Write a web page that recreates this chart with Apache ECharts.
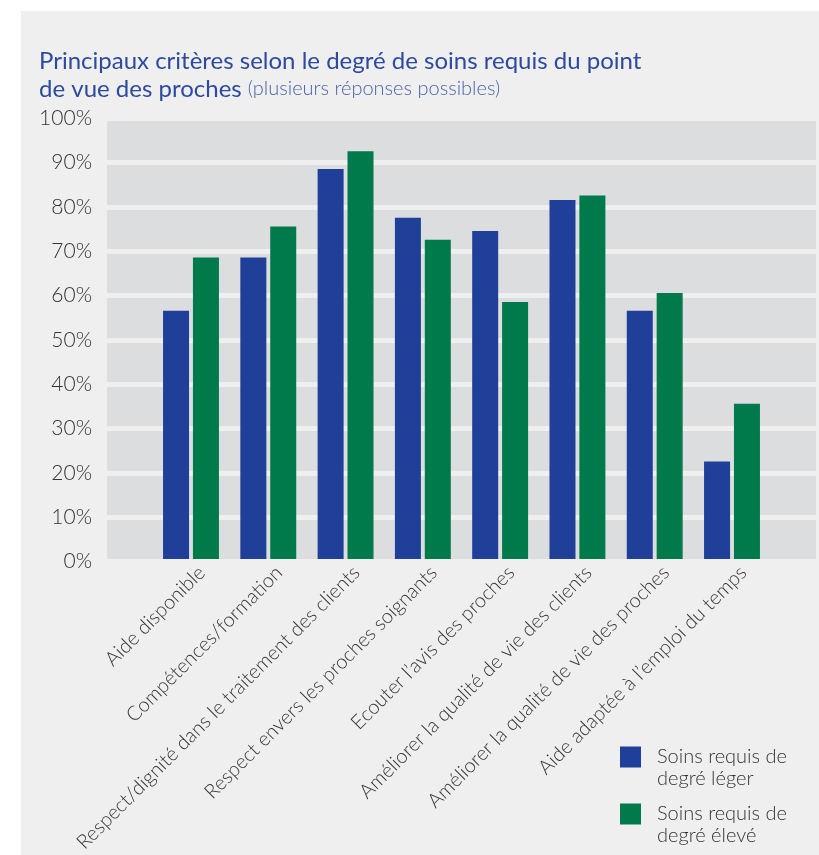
<!DOCTYPE html>
<html>
<head>
<meta charset="utf-8">
<script src="https://cdn.jsdelivr.net/npm/echarts@6/dist/echarts.min.js"></script>
<style>
  html, body { margin: 0; padding: 0; background: #ffffff; }
  #panel { position: absolute; left: 21px; top: 11px; right: 0; bottom: 0; background: #efefef; }
  #chart { position: absolute; left: 0; top: 0; width: 819px; height: 855px; }
</style>
</head>
<body>
<div id="panel"></div>
<div id="chart"></div>
<script>
// Criteria named by relatives, split by degree of care required (percent of answers)
const categories = [
  'Aide disponible',
  'Compétences/formation',
  'Respect/dignité dans le traitement des clients',
  'Respect envers les proches soignants',
  'Ecouter l\u2019avis des proches',
  'Améliorer la qualité de vie des clients',
  'Améliorer la qualité de vie des proches',
  'Aide adaptée à l\u2019emploi du temps'
];
const seriesNames = ['Soins requis de\ndegré léger', 'Soins requis de\ndegré élevé'];
const lightCare = [56, 68, 88, 77, 74, 81, 56, 22];
const highCare = [68, 75, 92, 72, 58, 82, 60, 35];
const yTickValues = [0, 10, 20, 30, 40, 50, 60, 70, 80, 90, 100];

const FONT = 'Lato, "Open Sans", sans-serif';
const BLUE = '#1f3f99';
const GREEN = '#007a4a';

const chart = echarts.init(document.getElementById('chart'), null, { renderer: 'canvas' });

chart.setOption({
  backgroundColor: 'transparent',
  animation: false,
  textStyle: { fontFamily: FONT },
  title: {
    left: 39,
    top: 47,
    padding: 0,
    text: '{a|Principaux critères selon le degré de soins requis du point}\n{a|de vue des proches }{b|(plusieurs réponses possibles)}',
    textStyle: {
      fontWeight: 'normal',
      rich: {
        a: { fontFamily: FONT, fontSize: 24, fontWeight: 'normal', color: '#2d4a9e', lineHeight: 28 },
        b: { fontFamily: FONT, fontSize: 20, fontWeight: 300, color: '#4a64ad', lineHeight: 28 }
      }
    }
  },
  legend: {
    orient: 'vertical',
    left: 620,
    top: 724,
    padding: 0,
    itemWidth: 21,
    itemHeight: 21,
    itemGap: -9,
    icon: 'rect',
    data: seriesNames,
    // a leading empty line keeps the swatch level with the first text line
    formatter: function (name) { return ' \n' + name; },
    textStyle: {
      fontFamily: FONT,
      fontSize: 20,
      fontWeight: 300,
      color: '#333333',
      lineHeight: 22,
      padding: [0, 0, 0, 11]
    }
  },
  grid: [
    // plot panel with the percentage scale
    { left: 107, right: 3, top: 118.2, bottom: 293.5, show: true, backgroundColor: '#dcdddf', borderWidth: 0 },
    // bars
    { left: 152.35, right: 48.35, top: 115.7, bottom: 296 },
    // category labels
    { left: 163, right: 37, top: 115.7, bottom: 296 }
  ],
  xAxis: [
    { gridIndex: 0, type: 'value', show: false },
    { gridIndex: 1, type: 'category', data: categories, show: false },
    {
      gridIndex: 2, type: 'category', data: categories,
      axisLine: { show: false }, axisTick: { show: false }, splitLine: { show: false },
      axisLabel: {
        interval: 0, rotate: 45, margin: 12,
        fontFamily: FONT, fontSize: 20, fontWeight: 300, color: '#333333'
      }
    }
  ],
  yAxis: [
    {
      gridIndex: 0, type: 'value', min: 0, max: 100, interval: 10,
      axisLine: { show: false }, axisTick: { show: false },
      axisLabel: {
        margin: 15, fontFamily: FONT, fontSize: 21, fontWeight: 300, color: '#333333',
        formatter: function (v) { return yTickValues.indexOf(v) >= 0 ? v + '%' : ''; }
      },
      splitLine: { show: true, lineStyle: { color: '#efefef', width: 5 } }
    },
    { gridIndex: 1, type: 'value', min: 0, max: 100, show: false },
    { gridIndex: 2, type: 'value', min: 0, max: 100, show: false }
  ],
  series: [
    {
      name: seriesNames[0], type: 'bar', xAxisIndex: 1, yAxisIndex: 1,
      data: lightCare, barWidth: 26, barGap: '15%',
      itemStyle: { color: BLUE }
    },
    {
      name: seriesNames[1], type: 'bar', xAxisIndex: 1, yAxisIndex: 1,
      data: highCare, barWidth: 26, barGap: '15%',
      itemStyle: { color: GREEN }
    }
  ]
});
</script>
</body>
</html>
